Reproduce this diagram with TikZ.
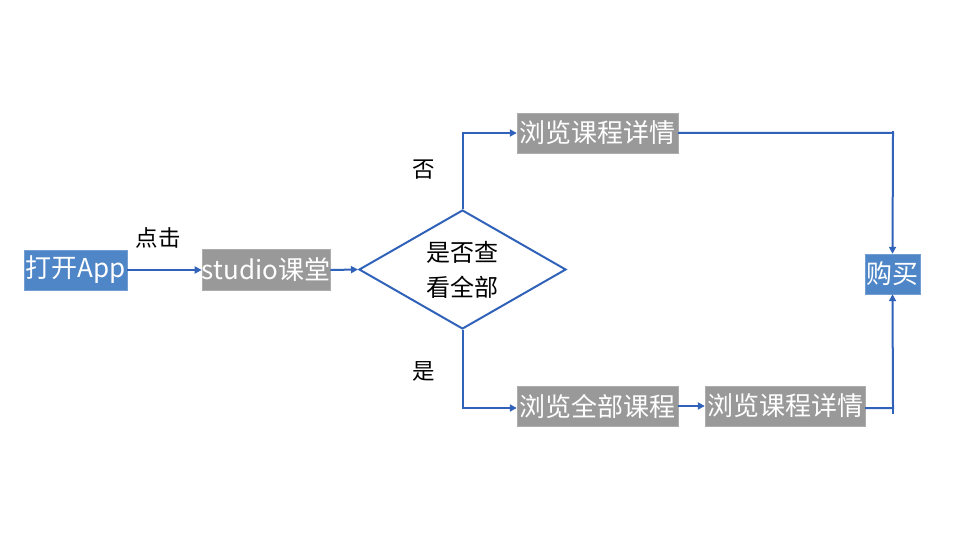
\documentclass[tikz,border=0pt]{standalone}
\usepackage{fontspec}
\setmainfont{Noto Sans CJK SC}
\usetikzlibrary{shapes.geometric,arrows.meta}
\definecolor{lineblue}{RGB}{47,98,184}
\definecolor{boxblue}{RGB}{79,134,199}
\definecolor{boxgray}{RGB}{153,153,153}
\tikzset{
  bluebox/.style={fill=boxblue, draw=boxblue!80!white, text=white, font=\fontsize{26}{28}\selectfont, inner sep=0pt, anchor=center},
  graybox/.style={fill=boxgray, draw=boxgray!80!white, text=white, font=\fontsize{26}{28}\selectfont, inner sep=0pt, anchor=center},
  lbl/.style={text=black, font=\fontsize{22.5}{25}\selectfont, inner sep=0pt},
  conn/.style={draw=lineblue, line width=2pt, -{Triangle[length=7pt,width=7pt]}},
  plain/.style={draw=lineblue, line width=2pt},
}
\begin{document}
\begin{tikzpicture}[x=1pt,y=-1pt]
\useasboundingbox (0,0) rectangle (960,540);
\node[bluebox, minimum width=103pt, minimum height=40pt] (app) at (75.5,270) {打开App};
\node[graybox, minimum width=128pt, minimum height=41pt] (studio) at (266,270) {studio课堂};
\node[draw=lineblue, line width=2pt, diamond, minimum width=207pt, minimum height=119pt, inner sep=0pt, aspect=1.74, font=\fontsize{24}{35}\selectfont, align=center] (dec) at (462.5,269.5) {是否查\\看全部};
\node[graybox, minimum width=161pt, minimum height=40pt] (top) at (597.5,133) {浏览课程详情};
\node[graybox, minimum width=161pt, minimum height=40pt] (all) at (597.5,406) {浏览全部课程};
\node[graybox, minimum width=160pt, minimum height=40pt] (det) at (785,406) {浏览课程详情};
\node[bluebox, minimum width=55pt, minimum height=40pt] (buy) at (892.5,274) {购买};
\node[lbl] (click) at (158,238) {点击};
\node[lbl] (no) at (424,170) {否};
\node[lbl] (yes) at (424,371) {是};
\coordinate (c1) at (893,133);
\coordinate (c2) at (893,408);
\draw[conn] (app.east) -- (studio.west);
\draw[conn] (studio.east) -- (dec.west);
\draw[conn] (dec.north) |- (top.west);
\draw[conn] (dec.south) |- ([yshift=-2pt]all.west);
\draw[conn] (all.east) -- (det.west);
\draw[conn] (top.east) -- (c1) -- (buy.north);
\draw[conn] ([yshift=-2pt]det.east) -- (c2) -- (buy.south);
\draw[plain] (c1) -- ++(0,-2);
\draw[plain] (c2) -- ++(0,6);
\end{tikzpicture}
\end{document}
